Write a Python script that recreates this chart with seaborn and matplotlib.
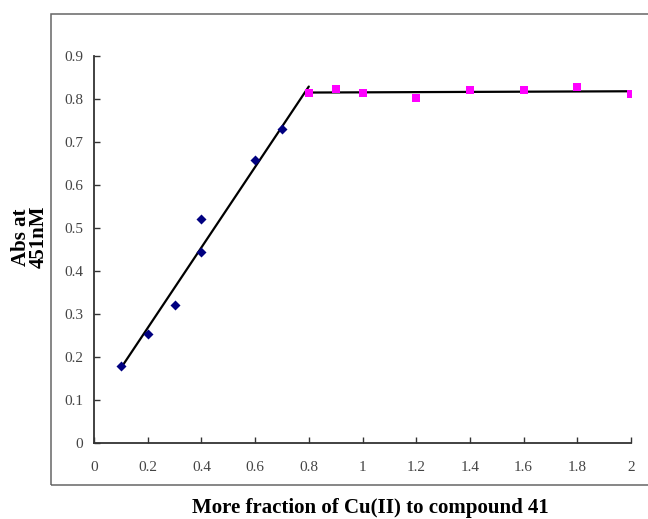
import matplotlib
matplotlib.use("Agg")
import matplotlib.pyplot as plt
import seaborn as sns
import numpy as np
import pandas as pd
from matplotlib.patches import Rectangle

# ---- data ----
blue_x = [0.1, 0.2, 0.3, 0.4, 0.4, 0.6, 0.7]
blue_y = [0.178, 0.253, 0.321, 0.522, 0.445, 0.659, 0.730]
pink_x = [0.8, 0.9, 1.0, 1.2, 1.4, 1.6, 1.8, 2.0]
pink_y = [0.813, 0.824, 0.815, 0.803, 0.820, 0.820, 0.827, 0.811]
rise_x = [0.1, 0.8]
rise_y = [0.174, 0.829]
flat_x = [0.8, 2.0]
flat_y = [0.815, 0.818]
x_ticks = [0, 0.2, 0.4, 0.6, 0.8, 1.0, 1.2, 1.4, 1.6, 1.8, 2.0]
x_ticklabels = ["0", "0.2", "0.4", "0.6", "0.8", "1", "1.2", "1.4", "1.6", "1.8", "2"]
y_ticks = [0, 0.1, 0.2, 0.3, 0.4, 0.5, 0.6, 0.7, 0.8, 0.9]
y_ticklabels = ["0", "0.1", "0.2", "0.3", "0.4", "0.5", "0.6", "0.7", "0.8", "0.9"]
x_label = "More fraction of Cu(II) to compound 41"
y_label = "Abs at\n451nM"

sns.set_style("white")
plt.rcParams['font.family'] = ['Liberation Serif', 'DejaVu Serif']

W, H = 648, 519
fig = plt.figure(figsize=(W / 100, H / 100), dpi=100)
ax = fig.add_axes([94 / W, 1 - 443 / H, (631 - 94) / W, (443 - 56) / H])

df_blue = pd.DataFrame({"x": blue_x, "y": blue_y})
df_pink = pd.DataFrame({"x": pink_x, "y": pink_y})
df_rise = pd.DataFrame({"x": rise_x, "y": rise_y})
df_flat = pd.DataFrame({"x": flat_x, "y": flat_y})

sns.lineplot(data=df_rise, x="x", y="y", ax=ax, color="black", linewidth=1.6, zorder=2)
sns.lineplot(data=df_flat, x="x", y="y", ax=ax, color="black", linewidth=1.6, zorder=2)
sns.scatterplot(data=df_blue, x="x", y="y", ax=ax, marker="D", s=26, color="#000080",
                edgecolor="#000080", linewidth=0, zorder=3)
sns.scatterplot(data=df_pink, x="x", y="y", ax=ax, marker="s", s=34, color="#FF00FF",
                edgecolor="#FF00FF", linewidth=0, zorder=3)

ax.set_xlim(0, 2)
ax.set_ylim(0, 0.9)
ax.set_xticks(x_ticks)
ax.set_xticklabels(x_ticklabels)
ax.set_yticks(y_ticks)
ax.set_yticklabels(y_ticklabels)
ax.set_xlabel("")
ax.set_ylabel("")

for s in ["top", "right"]:
    ax.spines[s].set_visible(False)
for s in ["left", "bottom"]:
    ax.spines[s].set_color("#333333")
    ax.spines[s].set_linewidth(1.3)

ax.tick_params(left=True, bottom=True)
ax.tick_params(axis="both", direction="in", length=4, width=1.0, color="#333333",
               labelcolor="#444444", labelsize=11)
ax.tick_params(axis="y", pad=8)
ax.tick_params(axis="x", pad=13)

# outer chart-area frame
fig.patches.append(Rectangle((51 / W, 1 - 485 / H), (700 - 51) / W, (485 - 14) / H,
                             transform=fig.transFigure, fill=False,
                             edgecolor="#666666", linewidth=1.1, clip_on=False))

fig.text(370 / W, 1 - 508 / H, x_label, ha="center", va="center",
         fontsize=15, fontweight="bold", color="black")
fig.text(30 / W, 1 - 237 / H, y_label, ha="center", va="center", rotation=90,
         fontsize=15, fontweight="bold", color="black", linespacing=0.85,
         multialignment="center")

fig.savefig("out.png", dpi=100)
